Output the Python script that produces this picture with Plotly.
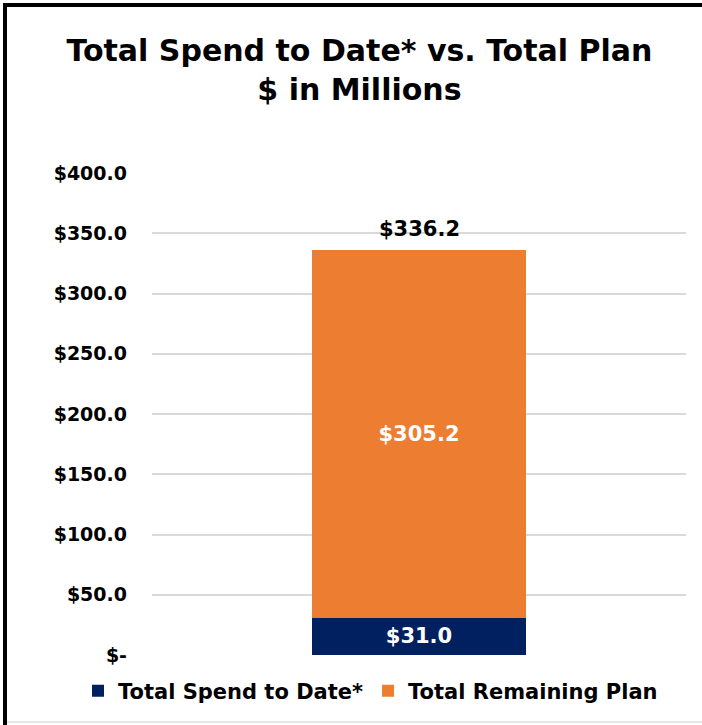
import plotly.graph_objects as go

categories = ["Total"]
spend_to_date = [31.0]
remaining_plan = [305.2]
total_plan = [336.2]
series_names = ["Total Spend to Date*", "Total Remaining Plan"]
tick_values = [0, 50, 100, 150, 200, 250, 300, 350, 400]
tick_labels = ["$-", "$50.0", "$100.0", "$150.0", "$200.0", "$250.0", "$300.0", "$350.0", "$400.0"]

NAVY = "#002060"
ORANGE = "#ED7D31"
LBL_FONT = "Verdana, DejaVu Sans, sans-serif"
TTL_FONT = "DejaVu Sans, sans-serif"

fig = go.Figure()
fig.add_trace(go.Bar(
    x=categories, y=spend_to_date, name=series_names[0],
    marker=dict(color=NAVY, line=dict(width=0)),
    text=[f"${v:.1f}" for v in spend_to_date], textposition="inside",
    insidetextanchor="middle", textangle=0,
    textfont=dict(color="white", size=21, family=LBL_FONT, weight="bold"),
    width=0.4,
))
fig.add_trace(go.Bar(
    x=categories, y=remaining_plan, name=series_names[1],
    marker=dict(color=ORANGE, line=dict(width=0)),
    text=[f"${v:.1f}" for v in remaining_plan], textposition="inside",
    insidetextanchor="middle", textangle=0,
    textfont=dict(color="white", size=21, family=LBL_FONT, weight="bold"),
    width=0.4,
))
for c, v in zip(categories, total_plan):
    fig.add_annotation(
        x=c, y=v, text=f"${v:.1f}", showarrow=False,
        yanchor="bottom", yshift=7,
        font=dict(color="black", size=21, family=LBL_FONT, weight="bold"),
    )

L, R, T, B = 152, 16, 173, 70
W, H = 702, 725
pw, ph = W - L - R, H - T - B

def px_x(p):
    return (p - L) / pw

def px_y(p):
    return (H - B - p) / ph

fig.update_layout(
    width=W, height=H,
    margin=dict(l=L, r=R, t=T, b=B, autoexpand=False),
    paper_bgcolor="white", plot_bgcolor="white",
    barmode="stack", bargap=0.6,
    showlegend=True,
    title=dict(
        text="Total Spend to Date* vs. Total Plan<br>$ in Millions",
        x=0.512, xanchor="center", y=1 - 61 / H, yanchor="top",
        font=dict(family=TTL_FONT, size=30, color="black", weight="bold"),
    ),
    legend=dict(
        orientation="h", x=px_x(78), xanchor="left", y=px_y(691), yanchor="middle",
        xref="paper", yref="paper", bgcolor="rgba(0,0,0,0)",
        font=dict(family=TTL_FONT, size=21, color="black", weight="bold"),
        traceorder="normal", itemwidth=30,
    ),
    xaxis=dict(showticklabels=False, showgrid=False, zeroline=False,
               showline=False, range=[-0.5, 0.5], fixedrange=True),
    yaxis=dict(range=[0, 400], tickvals=tick_values, ticktext=tick_labels,
               showgrid=True, gridcolor="#D9D9D9", gridwidth=1.5,
               zeroline=False, showline=False, ticks="",
               ticklabelstandoff=24, fixedrange=True,
               tickfont=dict(family=LBL_FONT, size=19, color="black", weight="bold")),
    shapes=[
        dict(type="line", xref="paper", yref="paper",
             x0=px_x(5), x1=px_x(5), y0=px_y(725), y1=px_y(3),
             line=dict(color="black", width=4)),
        dict(type="line", xref="paper", yref="paper",
             x0=px_x(3), x1=px_x(702), y0=px_y(5), y1=px_y(5),
             line=dict(color="black", width=4)),
        dict(type="line", xref="paper", yref="paper",
             x0=px_x(7), x1=px_x(702), y0=px_y(722), y1=px_y(722),
             line=dict(color="#E6E6E6", width=2)),
    ],
)

fig.write_html("out.html", config={"displayModeBar": False},
               post_script="document.body.style.margin='0';")
